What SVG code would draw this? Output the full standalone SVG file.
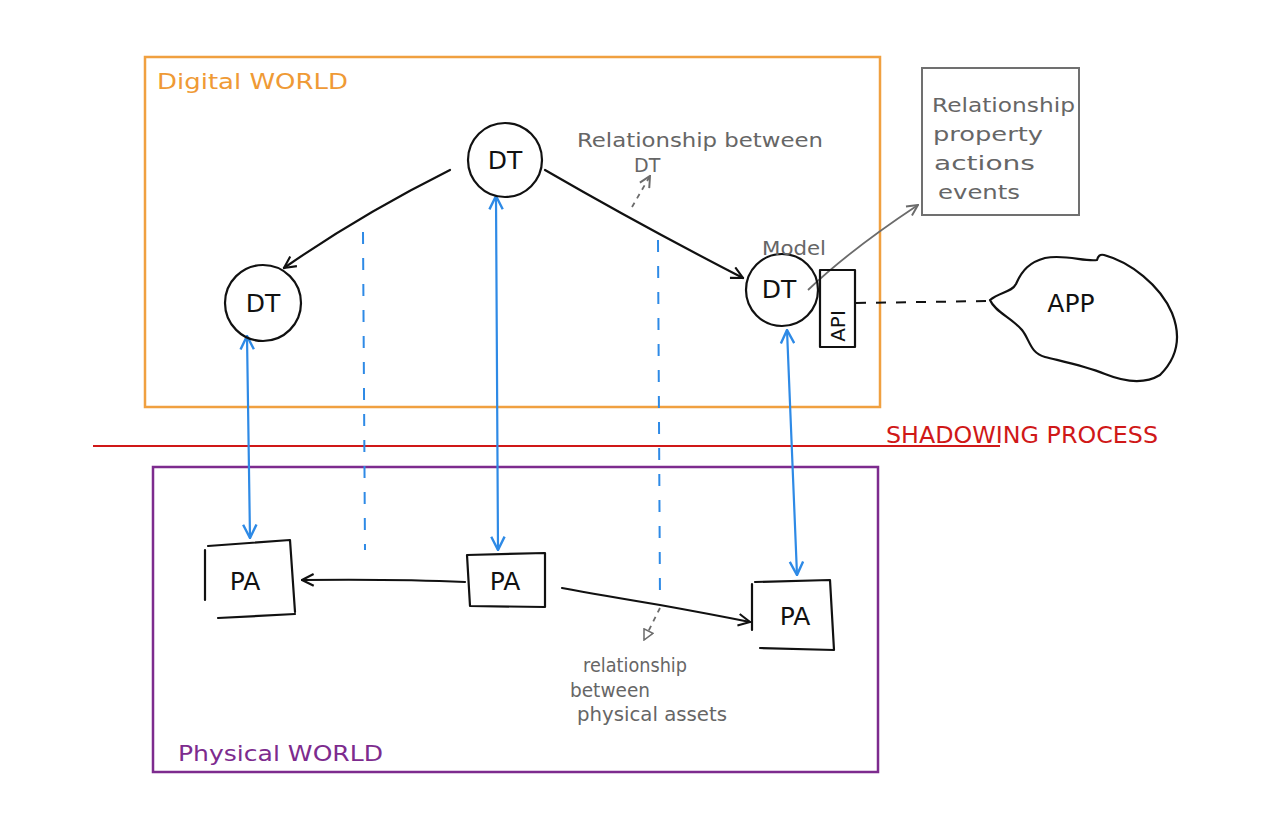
<svg xmlns="http://www.w3.org/2000/svg" width="1280" height="827" viewBox="0 0 1280 827">
<defs>
<style>
.t{font-family:"DejaVu Sans","Liberation Sans",Arial,sans-serif}
.k{stroke:#111;stroke-width:2.2;fill:none;stroke-linecap:round;stroke-linejoin:round}
.b{stroke:#2e8ae6;stroke-width:2.2;fill:none;stroke-linecap:round}
.bd{stroke:#2e8ae6;stroke-width:2;fill:none;stroke-dasharray:12 14}
.g{stroke:#6b6b6b;stroke-width:1.8;fill:none}
.gd{stroke:#6b6b6b;stroke-width:1.8;fill:none;stroke-dasharray:5 5}
.gt{fill:#666;font-size:19px}
.nt{fill:#111;font-size:25px}
</style>
<marker id="ak" viewBox="0 0 12 12" refX="11" refY="6" markerWidth="14" markerHeight="14" markerUnits="userSpaceOnUse" orient="auto">
<path d="M1,1 L11,6 L1,11" fill="none" stroke="#111" stroke-width="1.8"/>
</marker>
<marker id="ab" viewBox="0 0 12 12" refX="11" refY="6" markerWidth="16" markerHeight="16" markerUnits="userSpaceOnUse" orient="auto-start-reverse">
<path d="M1,1 L11,6 L1,11" fill="none" stroke="#2e8ae6" stroke-width="1.8"/>
</marker>
<marker id="ag" viewBox="0 0 12 12" refX="11" refY="6" markerWidth="13" markerHeight="13" markerUnits="userSpaceOnUse" orient="auto">
<path d="M1,1 L11,6 L1,11" fill="none" stroke="#6b6b6b" stroke-width="1.8"/>
</marker>
<marker id="agt" viewBox="0 0 12 12" refX="11" refY="6" markerWidth="12" markerHeight="12" markerUnits="userSpaceOnUse" orient="auto">
<path d="M1,1 L11,6 L1,11 Z" fill="#fff" stroke="#6b6b6b" stroke-width="1.5"/>
</marker>
</defs>
<rect width="1280" height="827" fill="#fff"/>

<g id="digital-world">
<rect x="145" y="57" width="735" height="350" fill="none" stroke="#f0a040" stroke-width="2.5"/>
<text class="t" x="157" y="89" fill="#ef9a35" font-size="22" textLength="191" lengthAdjust="spacingAndGlyphs">Digital WORLD</text>
</g>

<g id="physical-world">
<rect x="153" y="467" width="725" height="305" fill="none" stroke="#7d2b8e" stroke-width="2.5"/>
<text class="t" x="178" y="761" fill="#7d2b8e" font-size="22" textLength="205" lengthAdjust="spacingAndGlyphs">Physical WORLD</text>
</g>

<g id="shadowing">
<line x1="93" y1="446" x2="1000" y2="446" stroke="#d01818" stroke-width="2"/>
<text class="t" x="886" y="443" fill="#d01818" font-size="23" textLength="272" lengthAdjust="spacingAndGlyphs">SHADOWING PROCESS</text>
</g>

<g id="info-box">
<rect x="922" y="68" width="157" height="147" fill="none" stroke="#707070" stroke-width="2"/>
<text class="t gt" x="932" y="112" font-size="21" textLength="143" lengthAdjust="spacingAndGlyphs">Relationship</text>
<text class="t gt" x="933" y="141" font-size="21" textLength="110" lengthAdjust="spacingAndGlyphs">property</text>
<text class="t gt" x="934" y="170" font-size="21" textLength="101" lengthAdjust="spacingAndGlyphs">actions</text>
<text class="t gt" x="938" y="199" font-size="21" textLength="82" lengthAdjust="spacingAndGlyphs">events</text>
</g>

<g id="connectors">
<path class="k" d="M450,170 Q360,215 284,268" marker-end="url(#ak)"/>
<path class="k" d="M545,170 Q640,225 743,278" marker-end="url(#ak)"/>
<path class="gd" d="M632,207 L650,176" marker-end="url(#ag)"/>
<path class="g" d="M808,290 Q850,250 918,205" marker-end="url(#ag)"/>
<path d="M856,303 L990,301" stroke="#111" stroke-width="2" fill="none" stroke-dasharray="10 10"/>
<line class="bd" x1="363" y1="232" x2="365" y2="550"/>
<line class="bd" x1="658" y1="240" x2="660" y2="602"/>
<line class="b" x1="247" y1="336" x2="250" y2="538" marker-start="url(#ab)" marker-end="url(#ab)"/>
<line class="b" x1="496" y1="196" x2="498" y2="550" marker-start="url(#ab)" marker-end="url(#ab)"/>
<line class="b" x1="787" y1="330" x2="797" y2="575" marker-start="url(#ab)" marker-end="url(#ab)"/>
<path class="k" d="M465,582 Q400,579 302,580" marker-end="url(#ak)"/>
<path class="k" d="M562,588 Q600,595 660,605 Q710,614 750,622" marker-end="url(#ak)"/>
<path class="gd" d="M660,608 L644,640" marker-end="url(#agt)"/>
</g>

<g id="dt-top">
<circle cx="505" cy="160" r="37" class="k"/>
<text class="t nt" x="505" y="169" text-anchor="middle">DT</text>
</g>
<g id="dt-left">
<circle cx="263" cy="303" r="38" class="k"/>
<text class="t nt" x="263" y="312" text-anchor="middle">DT</text>
</g>
<g id="dt-model">
<circle cx="782" cy="290" r="36" class="k"/>
<text class="t nt" x="779" y="298" text-anchor="middle">DT</text>
<text class="t gt" x="762" y="255" font-size="21" textLength="64" lengthAdjust="spacingAndGlyphs">Model</text>
<rect x="820" y="270" width="35" height="77" class="k"/>
<text class="t" x="0" y="0" fill="#111" font-size="20" transform="translate(845,326) rotate(-90)" text-anchor="middle">API</text>
</g>

<g id="app">
<path class="k" d="M990,300 C1000,292 1012,292 1016,284 C1022,270 1030,262 1045,258 C1065,254 1085,262 1097,260 C1098,256 1100,254 1104,255 C1130,262 1160,285 1172,313 C1180,333 1180,355 1160,375 C1145,384 1125,382 1105,374 C1085,366 1065,362 1045,357 C1030,353 1030,340 1022,330 C1012,318 995,312 990,300 Z"/>
<text class="t nt" x="1071" y="312" text-anchor="middle">APP</text>
</g>

<g id="pa-left">
<path class="k" d="M205,550 L205,600 M208,546 L290,540 L295,612 M218,618 L295,614"/>
<text class="t nt" x="245" y="590" text-anchor="middle">PA</text>
</g>
<g id="pa-mid">
<path class="k" d="M467,555 L545,553 L545,607 L470,606 L467,555"/>
<text class="t nt" x="505" y="590" text-anchor="middle">PA</text>
</g>
<g id="pa-right">
<path class="k" d="M752,584 L752,630 M755,582 L830,580 L834,650 M760,648 L834,650"/>
<text class="t nt" x="795" y="625" text-anchor="middle">PA</text>
</g>

<g id="labels">
<text class="t gt" x="577" y="147" textLength="246" lengthAdjust="spacingAndGlyphs">Relationship between</text>
<text class="t gt" x="634" y="172" font-size="17">DT</text>
<text class="t gt" x="583" y="672" textLength="104" lengthAdjust="spacingAndGlyphs">relationship</text>
<text class="t gt" x="570" y="697" textLength="80" lengthAdjust="spacingAndGlyphs">between</text>
<text class="t gt" x="577" y="721" textLength="150" lengthAdjust="spacingAndGlyphs">physical assets</text>
</g>
</svg>
